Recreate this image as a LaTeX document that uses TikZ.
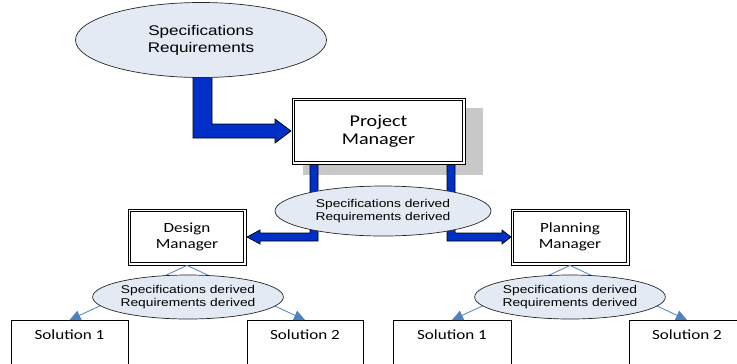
\documentclass[tikz,border=0pt]{standalone}
\usepackage{fontspec}
\newfontfamily\ellfont[FakeStretch=1.22]{Liberation Sans}
\newfontfamily\boxfont[FakeStretch=1.22]{Carlito}
\usetikzlibrary{shapes.geometric,arrows.meta,calc}
\definecolor{ellfill}{HTML}{E4EAF4}
\definecolor{bblue}{HTML}{0030C8}
\definecolor{lblue}{HTML}{4F81BD}
\definecolor{shadowgrey}{HTML}{C8C8C8}
\begin{document}
\begin{tikzpicture}[x=1bp,y=-1bp,
  ell/.style={ellipse, draw=black!85, line width=0.7bp, fill=ellfill, inner sep=0, align=center,
    font=\ellfont\fontsize{11.3bp}{13bp}\selectfont},
  mgr/.style={rectangle, draw=black, fill=white, line width=0.9bp,
    align=center, inner sep=0, font=\boxfont\fontsize{14bp}{15.5bp}\selectfont},
  mgrinner/.style={draw=black, line width=0.8bp},
  sol/.style={rectangle, draw=black, fill=white, line width=0.8bp, inner sep=0, anchor=north},
  soltext/.style={font=\boxfont\fontsize{14bp}{16bp}\selectfont, inner sep=0},
  block/.style={fill=bblue, draw=black, line width=0.7bp, line join=miter},
  flow/.style={draw=lblue, line width=0.8bp, -{Triangle[length=11bp,width=10bp]}}]
\useasboundingbox (0,0) rectangle (737,363);
\clip (0,0) rectangle (737,363);

% shadow of project manager
\fill[shadowgrey] (303,108) rectangle (483,175);

% block arrows
\draw[block] (193,60) -- (212,60) -- (212,124) -- (275,124) -- (275,119) -- (291,131)
  -- (275,143) -- (275,138) -- (193,138) -- cycle;
\draw[block] (310,150) -- (318,150) -- (318,241) -- (260,241) -- (260,244) -- (247,237)
  -- (260,230) -- (260,233) -- (310,233) -- cycle;
\draw[block] (447,150) -- (455,150) -- (455,233) -- (502,233) -- (502,230) -- (511,237)
  -- (502,244) -- (502,241) -- (447,241) -- cycle;

% top ellipse
\node[ell, minimum width=251bp, minimum height=75bp,
  font=\ellfont\fontsize{14bp}{17bp}\selectfont] (spec) at (201,40) {Specifications\\Requirements};

% managers (double frame)
\node[mgr, minimum width=173bp, minimum height=66bp,
  font=\boxfont\fontsize{16.5bp}{18.5bp}\selectfont] (pm) at (378.5,131) {Project\\Manager};
\node[mgr, minimum width=118bp, minimum height=56bp] (dm) at (187,237) {Design\\Manager};
\node[mgr, minimum width=118bp, minimum height=56bp] (plm) at (570,237) {Planning\\Manager};
\foreach \n in {pm,dm,plm}
  \draw[mgrinner] ($(\n.south west)+(3,-3)$) rectangle ($(\n.north east)+(-3,3)$);

% solution boxes
\node[sol, minimum width=117bp, minimum height=80bp] (s1) at (69.5,320) {};
\node[sol, minimum width=116bp, minimum height=80bp] (s2) at (305,320) {};
\node[sol, minimum width=118bp, minimum height=80bp] (s3) at (452,320) {};
\node[sol, minimum width=116bp, minimum height=80bp] (s4) at (687,320) {};
\node[soltext] (t1) at ($(s1.north)+(0,15)$) {Solution 1};
\node[soltext] (t2) at ($(s2.north)+(0,15)$) {Solution 2};
\node[soltext] (t3) at ($(s3.north)+(0,15)$) {Solution 1};
\node[soltext] (t4) at ($(s4.north)+(0,15)$) {Solution 2};

% thin connectors
\draw[flow] (dm.south) -- (s1.north);
\draw[flow] (dm.south) -- (s2.north);
\draw[flow] (plm.south) -- (s3.north);
\draw[flow] (plm.south) -- (s4.north);

% derived ellipses
\node[ell, minimum width=216bp, minimum height=50bp] (mid) at (383,211) {Specifications derived\\Requirements derived};
\node[ell, minimum width=177bp, minimum height=44bp] (lell) at (188,297) {Specifications derived\\Requirements derived};
\node[ell, minimum width=175bp, minimum height=44bp] (rell) at (570,297) {Specifications derived\\Requirements derived};
\end{tikzpicture}
\end{document}
